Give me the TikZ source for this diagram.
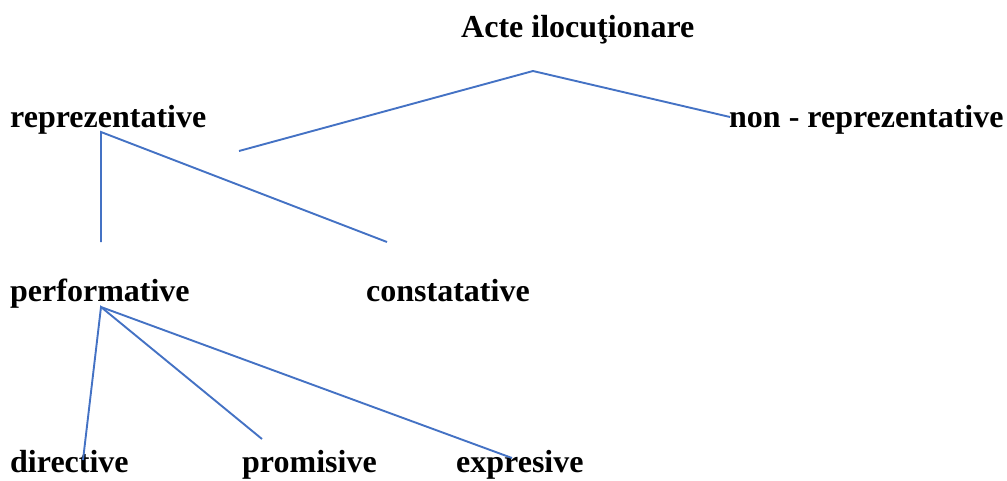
\documentclass[tikz,border=0pt]{standalone}
\usepackage{fontspec}
\setmainfont{Liberation Serif}
\definecolor{linkblue}{HTML}{4472C4}
\begin{document}
\begin{tikzpicture}[x=1pt,y=-1pt,
  lbl/.style={anchor=base west,inner sep=0pt,font=\fontsize{32}{38}\selectfont\bfseries},
  link/.style={draw=linkblue,line width=1.9pt}]
\useasboundingbox (0,0) rectangle (1007,480);
% labels
\node[lbl] (acte) at (461,37) {Acte ilocuţionare};
\node[lbl] (rep) at (10,127) {reprezentative};
\node[lbl] (nonrep) at (729,127) {non - reprezentative};
\node[lbl] (perf) at (10,301) {performative};
\node[lbl] (const) at (366,301) {constatative};
\node[lbl] (dir) at (10,472) {directive};
\node[lbl] (prom) at (242,472) {promisive};
\node[lbl] (expr) at (456,472) {expresive};
% connector ends
\coordinate (acteapex) at (533,71);
\coordinate (repend) at (239,151);
\coordinate (nonrepend) at (730,117);
\coordinate (repapex) at (101,132);
\coordinate (perfend) at (101,242);
\coordinate (constend) at (387,242);
\coordinate (perfapex) at (101,307);
\coordinate (dirend) at (83,460);
\coordinate (promend) at (262,439);
\coordinate (exprend) at (512,458);
% connectors
\draw[link] (repend) -- (acteapex) -- (nonrepend);
\draw[link] (perfend) -- (repapex) -- (constend);
\draw[link] (dirend) -- (perfapex) -- (promend);
\draw[link] (perfapex) -- (exprend);
\end{tikzpicture}
\end{document}
